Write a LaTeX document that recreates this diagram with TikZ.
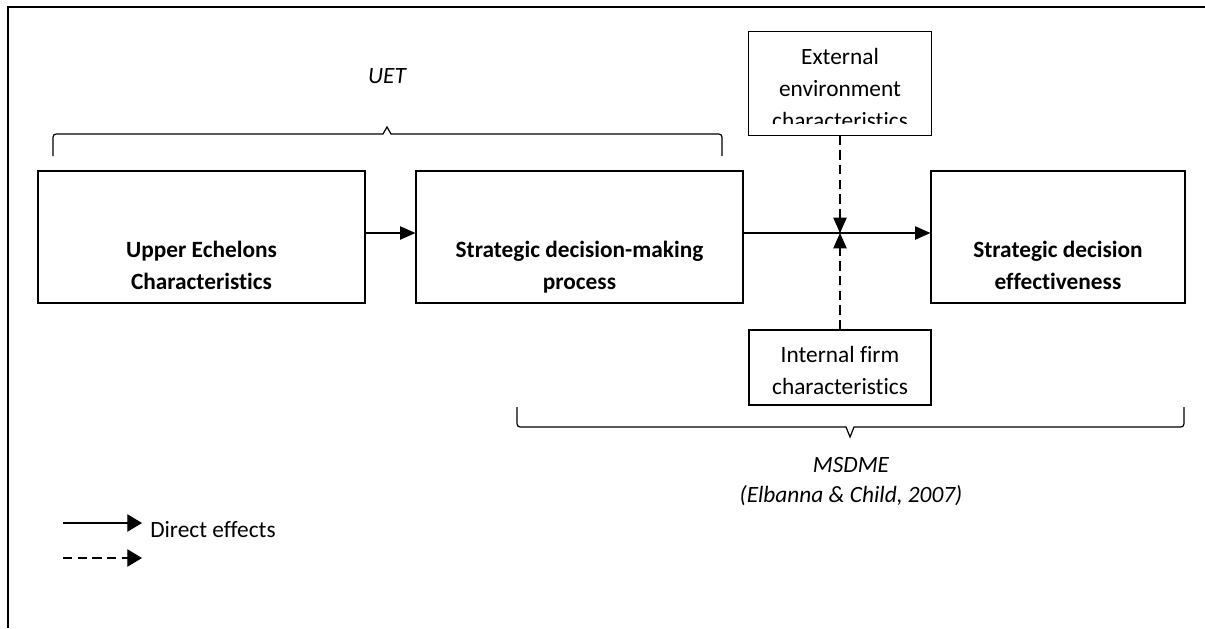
\documentclass[tikz,border=0pt]{standalone}
\usepackage{fontspec}
\setmainfont{Carlito}[Ligatures={NoCommon}]
\usepackage{tikz}
\usetikzlibrary{arrows.meta, positioning}

\begin{document}
\begin{tikzpicture}[
    x=0.75pt, y=-0.75pt,
    box/.style={rectangle, draw, line width=0.9pt, align=center, inner sep=0pt, font=\fontsize{17.5}{24}\selectfont\bfseries, text depth=0pt, text height=78pt, minimum width=245.25pt, minimum height=99pt},
    modbox/.style={rectangle, draw, line width=0.9pt, align=center, inner sep=0pt, font=\fontsize{17.5}{24}\selectfont, text depth=0pt, minimum width=136.5pt},
    note/.style={inner sep=0pt, font=\fontsize{17.5}{24}\selectfont, align=center},
    arrow/.style={-{Triangle[length=11.5pt, width=10pt]}, line width=0.9pt},
    dasharrow/.style={arrow, dash pattern=on 7pt off 4pt},
    keyarrow/.style={-{Triangle[length=11pt, width=13pt]}, line width=0.9pt},
    brace/.style={line width=0.9pt},
    frame/.style={line width=1.8pt}
]
\useasboundingbox (0,0) rectangle (1205,628);

% Frame
\draw[frame] (8,628) -- (8,7) -- (1205,7);

% Main boxes
\node[box] (ueb) at (201.5,237) {Upper Echelons\\Characteristics};
\node[box] (sdmp) at (579.5,237) {Strategic decision-making\\process};
\node[box, minimum width=190.5pt] (sde) at (1058,237) {Strategic decision\\effectiveness};

% Moderators
\begin{scope}
  \clip (749,32) rectangle (931,123);
  \node[modbox, draw=none, minimum height=77.25pt, text height=68pt] (ext) at (840,83.5) {External\\environment\\characteristics};
\end{scope}
\draw[line width=0.9pt] (ext.north west) rectangle (ext.south east);
\node[modbox, minimum height=56.25pt, text height=41pt] (intf) at (840,367.5) {Internal firm\\characteristics};
\coordinate (junc) at (840,233);

% Direct effects
\draw[arrow] ([yshift=3pt]ueb.east) -- ([yshift=3pt]sdmp.west);
\draw[arrow] ([yshift=3pt]sdmp.east) -- ([yshift=3pt]sde.west);

% Moderating effects
\draw[dasharrow] (ext) -- (junc);
\draw[dasharrow] (intf) -- (junc);

% Theory braces
\draw[brace] (53,156) -- (53,141) .. controls (53,134) .. (60,134) -- (383,134) -- (387,127) -- (391,134) -- (715,134) .. controls (722,134) .. (722,141) -- (722,156);
\node[note, font=\fontsize{17.5}{24}\selectfont\itshape, anchor=base] (uet) at (387,83) {UET};

\draw[brace] (517,407) -- (517,420) .. controls (517,427) .. (524,427) -- (846,427) -- (850,437) -- (854,427) -- (1177,427) .. controls (1184,427) .. (1184,420) -- (1184,407);
\node[note, font=\fontsize{17.5}{22.5}\selectfont\itshape, anchor=south, text depth=0pt] (msdme) at (851,503) {MSDME\\(Elbanna \& Child, 2007)};

% Legend
\coordinate (solidA) at (63,523);
\coordinate (solidB) at (142,523);
\coordinate (dashA) at (63,558);
\coordinate (dashB) at (142,558);
\draw[keyarrow] (solidA) -- (solidB);
\draw[keyarrow, dash pattern=on 7pt off 4pt] (dashA) -- (dashB);
\node[note, anchor=base west] (direct) at (150,537) {Direct effects};

\end{tikzpicture}
\end{document}
